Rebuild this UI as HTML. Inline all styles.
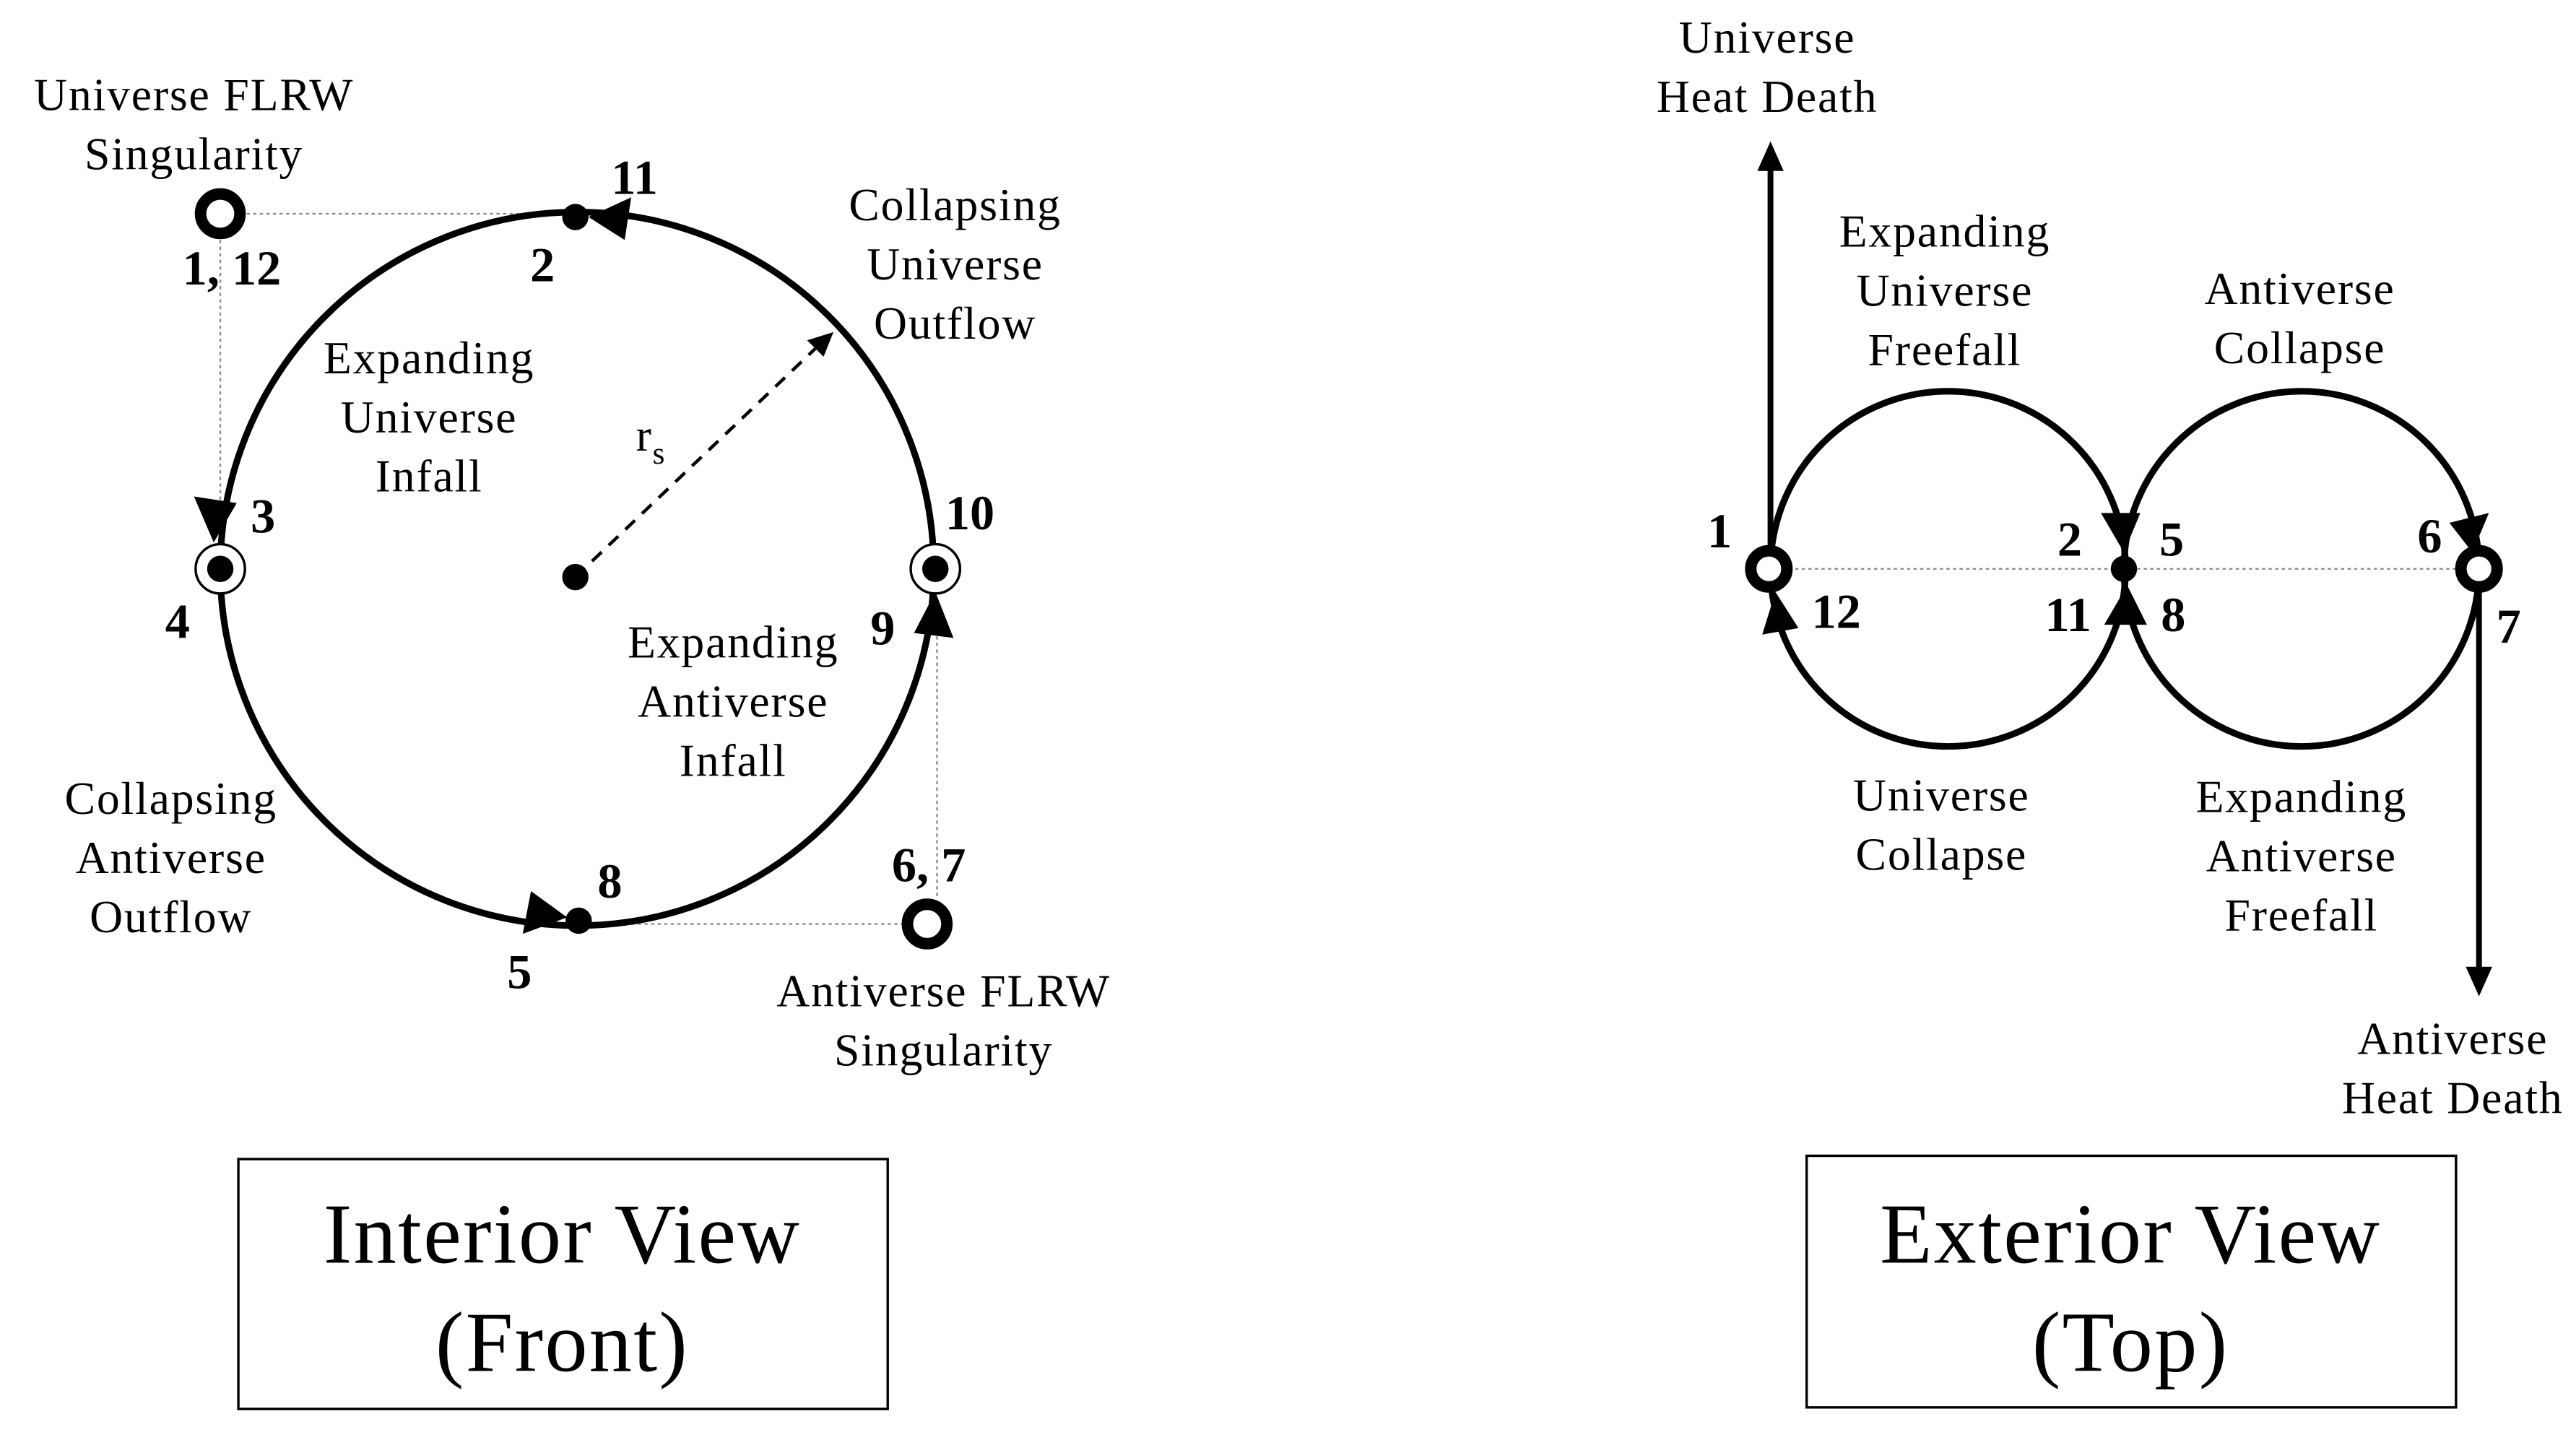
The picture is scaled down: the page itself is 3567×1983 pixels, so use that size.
<!DOCTYPE html>
<html><head><meta charset="utf-8"><style>html,body{margin:0;padding:0;background:#fff}svg{display:block}</style></head>
<body>
<svg width="3567" height="1983" viewBox="0 0 1567 871" preserveAspectRatio="none" xmlns="http://www.w3.org/2000/svg">
<g font-family="Liberation Serif, serif" fill="#000">
<!-- LEFT -->
<g fill="none" stroke="#888" stroke-width="1" stroke-dasharray="2,2">
<line x1="134" y1="130" x2="350" y2="130"/>
<line x1="134" y1="130" x2="134" y2="315"/>
<line x1="352" y1="562" x2="564" y2="562"/>
<line x1="570" y1="545" x2="570" y2="372"/>
</g>
<circle cx="351" cy="346" r="217" fill="none" stroke="#000" stroke-width="4"/>
<line x1="350" y1="351" x2="496" y2="212" stroke="#000" stroke-width="2" stroke-dasharray="8,6"/>
<polygon points="507,202 491,207 501,217"/>
<circle cx="350" cy="351" r="8"/>
<circle cx="350" cy="132" r="8"/>
<circle cx="352" cy="560" r="8"/>
<circle cx="134" cy="346" r="15" fill="#fff" stroke="#000" stroke-width="1.5"/>
<circle cx="134" cy="346" r="8"/>
<circle cx="569" cy="346" r="15" fill="#fff" stroke="#000" stroke-width="1.5"/>
<circle cx="569" cy="346" r="8"/>
<circle cx="134" cy="130" r="12" fill="#fff" stroke="#000" stroke-width="7"/>
<circle cx="564" cy="562" r="12" fill="#fff" stroke="#000" stroke-width="7"/>
<polygon points="358,132 384,120 380,146"/>
<polygon points="130,330 118,302 144,306"/>
<polygon points="345,558 318,568 323,542"/>
<polygon points="569,360 556,385 580,388"/>
<g font-size="28" letter-spacing="0.8" text-anchor="middle">
<text x="118" y="67">Universe FLRW</text><text x="118" y="103">Singularity</text>
<text x="581" y="134">Collapsing</text><text x="581" y="170">Universe</text><text x="581" y="206">Outflow</text>
<text x="261" y="227">Expanding</text><text x="261" y="263">Universe</text><text x="261" y="299">Infall</text>
<text x="446" y="400">Expanding</text><text x="446" y="436">Antiverse</text><text x="446" y="472">Infall</text>
<text x="104" y="495">Collapsing</text><text x="104" y="531">Antiverse</text><text x="104" y="567">Outflow</text>
<text x="574" y="612">Antiverse FLRW</text><text x="574" y="648">Singularity</text>
<text x="396" y="274">r<tspan font-size="19" dy="8">s</tspan></text>
</g>
<g font-size="30" font-weight="bold" text-anchor="middle">
<text x="141" y="173">1, 12</text><text x="330" y="171">2</text><text x="386" y="118">11</text>
<text x="160" y="324">3</text><text x="108" y="388">4</text><text x="590" y="322">10</text><text x="537" y="392">9</text>
<text x="371" y="546">8</text><text x="316" y="601">5</text><text x="565" y="536">6, 7</text>
</g>
<rect x="145" y="705" width="395" height="152" fill="none" stroke="#000" stroke-width="1.5"/>
<g font-size="52" letter-spacing="1" text-anchor="middle"><text x="342" y="768">Interior View</text><text x="342" y="834">(Front)</text></g>

<!-- RIGHT -->
<line x1="1076" y1="346" x2="1508" y2="346" stroke="#888" stroke-width="1" stroke-dasharray="2,2"/>
<circle cx="1185" cy="346" r="108" fill="none" stroke="#000" stroke-width="4"/>
<circle cx="1400" cy="346" r="108" fill="none" stroke="#000" stroke-width="4"/>
<line x1="1077" y1="346" x2="1077" y2="100" stroke="#000" stroke-width="3.5"/>
<polygon points="1077,86 1069,104 1085,104"/>
<line x1="1508" y1="346" x2="1508" y2="592" stroke="#000" stroke-width="3.5"/>
<polygon points="1508,606 1500,588 1516,588"/>
<circle cx="1292" cy="346" r="8"/>
<circle cx="1076" cy="346" r="11" fill="#fff" stroke="#000" stroke-width="7"/>
<circle cx="1508" cy="346" r="11" fill="#fff" stroke="#000" stroke-width="7"/>
<polygon points="1292,336 1278,312 1302,312"/>
<polygon points="1294,356 1280,380 1306,380"/>
<polygon points="1080,360 1072,386 1094,382"/>
<polygon points="1504,336 1490,318 1514,312"/>
<g font-size="28" letter-spacing="0.8" text-anchor="middle">
<text x="1075" y="32">Universe</text><text x="1075" y="68">Heat Death</text>
<text x="1183" y="150">Expanding</text><text x="1183" y="186">Universe</text><text x="1183" y="222">Freefall</text>
<text x="1399" y="185">Antiverse</text><text x="1399" y="221">Collapse</text>
<text x="1181" y="493">Universe</text><text x="1181" y="529">Collapse</text>
<text x="1400" y="494">Expanding</text><text x="1400" y="530">Antiverse</text><text x="1400" y="566">Freefall</text>
<text x="1492" y="641">Antiverse</text><text x="1492" y="677">Heat Death</text>
</g>
<g font-size="30" font-weight="bold" text-anchor="middle">
<text x="1046" y="333">1</text><text x="1259" y="338">2</text><text x="1321" y="338">5</text><text x="1478" y="336">6</text>
<text x="1117" y="382">12</text><text x="1258" y="384">11</text><text x="1322" y="384">8</text><text x="1526" y="391">7</text>
</g>
<rect x="1099" y="703" width="395" height="153" fill="none" stroke="#000" stroke-width="1.5"/>
<g font-size="52" letter-spacing="1" text-anchor="middle"><text x="1296" y="768">Exterior View</text><text x="1296" y="834">(Top)</text></g>
</g>
</svg>
</body></html>
